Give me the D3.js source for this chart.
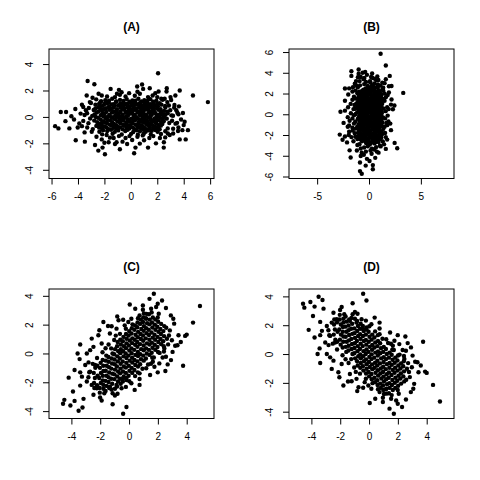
<!DOCTYPE html>
<html>
<head>
<meta charset="utf-8">
<title></title>
<style>
  body { margin: 0; background: #fff; }
</style>
</head>
<body>
<script src="https://d3js.org/d3.v7.min.js"></script>
<script type="text/javascript">

    var titles = ["(A)", "(B)", "(C)", "(D)"];

    var xTicksA = [-6, -4, -2, 0, 2, 4, 6], yTicksA = [-4, -2, 0, 2, 4];
    var xTicksB = [-5, 0, 5],               yTicksB = [-6, -4, -2, 0, 2, 4, 6];
    var xTicksC = [-4, -2, 0, 2, 4],        yTicksC = [-4, -2, 0, 2, 4];
    var xTicksD = [-4, -2, 0, 2, 4],        yTicksD = [-4, -2, 0, 2, 4];

    // points, [x, y]
    var ptsA = [
        [5.83,1.12],[2.06,3.3],[4.7,1.62],[-5.73,-0.7],[-5.48,-0.87],[-5.3,0.37],[-4.9,0.37],[-4.95,-0.32],[-4.5,0.05],[-4.65,-0.87],
        [-4.17,-1.77],[-4.02,-0.8],[-3.8,0.25],[-3.6,0.75],[-3.4,0.5],[-3.5,-1.17],[-3.48,-1.87],[-3.27,2.72],[-2.76,2.47],[-2.71,-2.12],
        [-2.46,-2.55],[-1.96,-2.82],[-2.14,-2.32],[-3.34,1.62],[-3.7,0.92],[-3.1,1.12],[-1.53,2.12],[-0.9,2.05],[-0.7,1.87],[0.48,2.3],
        [0.85,2.45],[1.43,2.17],[0.25,-2.75],[0.35,-2.32],[1.3,-2.32],[2.49,-2.32],[2.5,-1.92],[2.8,-1.25],[2.72,2.17],[2.1,1.92],
        [3.37,1.62],[3.7,2.0],[3.64,0.8],[3.94,0.3],[4.07,-0.37],[4.32,-1.0],[3.7,-1.7],[4.15,-1.7],[4.0,-0.62],[3.57,-1.07],
        [3.2,-1.25],[2.94,-1.37],[3.44,0.5],[3.07,0.12],[2.76,1.12],[2.56,1.37],[1.0,-1.77],[0.68,-2.02],[-1.08,-1.92],[-0.63,-1.87],
        [-0.28,-2.05],[-0.83,-2.45],[-1.68,-1.92],[-1.58,-1.57],[-1.83,-1.37],[-2.96,-1.12],
        [-2.44,1.75],[-2.2,1.62],[-1.8,1.55],[-1.2,1.5],[-0.83,1.67],[-0.4,1.55],[-0.13,1.8],[0.3,1.6],[0.68,1.75],[0.93,2.12],
        [1.3,1.5],[1.65,1.62],[2.0,1.5],[2.3,1.37],[2.7,1.92],[-2.9,1.45],[-1.05,1.75],[0.5,1.9],[1.85,1.8],[3.0,1.5],
        [-2.6,-1.5],[-2.2,-1.7],[-1.3,-1.6],[-0.9,-1.45],[-0.4,-1.6],[0.1,-1.75],[0.5,-1.5],[1.4,-1.6],[1.7,-1.45],[2.2,-1.6],
        [2.6,-1.55],[-0.1,-1.45],[1.9,-2.0],[-1.2,-2.05],[0.9,-1.4],[-2.0,-1.95],
        [-3.6,-0.3],[-3.9,-0.5],[-3.3,-0.8],[-4.2,0.6],[-3.5,0.15],[-4.3,-0.2],[-3.7,-0.7],
        [3.6,0.2],[3.8,-0.2],[3.5,-0.45],[3.9,-1.0],[3.3,0.9],[3.6,-0.8],[3.2,-0.9],
        [-2.62,1.33],[-1.93,1.26],[-1.41,1.37],[-0.82,1.29],[-0.31,1.35],[0.12,1.24],[0.57,1.38],[1.02,1.27],[1.48,1.34],[1.93,1.22],[2.41,1.3],[3.05,1.28],
        [-3.02,1.05],[-2.31,1.12],[-1.68,1.08],[-1.12,1.15],[-0.58,1.06],[-0.07,1.13],[0.34,1.02],[0.79,1.14],[1.23,1.07],[1.71,1.12],[2.18,1.04],[-2.0,0.98],
        [-2.68,0.92],[-2.12,0.85],[-1.47,0.94],[-0.97,0.87],[-0.48,0.95],[0.03,0.88],[0.42,0.93],[0.88,0.84],[1.33,0.96],[1.79,0.89],[2.32,0.93],[2.88,0.86],
        [-3.18,0.68],[-2.47,0.73],[-1.88,0.66],[-1.31,0.74],[-0.78,0.69],[-0.27,0.72],[0.19,0.65],[0.63,0.75],[1.04,0.68],[1.52,0.73],[1.98,0.66],[2.61,0.72],[3.28,0.7],
        [-2.81,0.52],[-2.18,0.46],[-1.62,0.54],[-1.07,0.48],[-0.59,0.55],[-0.16,0.47],[0.31,0.53],[0.72,0.45],[1.17,0.56],[1.62,0.49],[2.09,0.54],[2.52,0.46],[2.98,0.51],
        [-3.31,0.28],[-2.58,0.33],[-1.99,0.26],[-1.42,0.34],[-0.91,0.27],[-0.38,0.32],[0.08,0.25],[0.51,0.34],[0.93,0.27],[1.38,0.31],[1.87,0.26],[2.29,0.33],[2.79,0.28],[3.52,0.31],
        [-2.92,0.08],[-2.27,0.13],[-1.71,0.06],[-1.18,0.12],[-0.69,0.05],[-0.21,0.11],[0.23,0.07],[0.68,0.14],[1.09,0.06],[1.53,0.12],[2.02,0.07],[2.58,0.13],[3.19,0.09],
        [-3.08,-0.12],[-2.49,-0.07],[-1.88,-0.13],[-1.37,-0.06],[-0.88,-0.11],[-0.47,-0.05],[0.02,-0.13],[0.43,-0.08],[0.87,-0.12],[1.31,-0.05],[1.78,-0.11],[2.21,-0.07],[2.72,-0.13],
        [-2.77,-0.28],[-2.09,-0.33],[-1.57,-0.26],[-1.02,-0.34],[-0.57,-0.27],[-0.09,-0.32],[0.32,-0.25],[0.79,-0.34],[1.21,-0.27],[1.68,-0.31],[2.11,-0.26],[2.49,-0.33],[3.12,-0.29],
        [-3.21,-0.47],[-2.42,-0.53],[-1.81,-0.46],[-1.28,-0.54],[-0.79,-0.48],[-0.31,-0.55],[0.12,-0.47],[0.58,-0.52],[1.01,-0.45],[1.43,-0.54],[1.92,-0.48],[2.38,-0.53],[2.91,-0.46],[3.38,-0.51],
        [-2.61,-0.68],[-2.02,-0.73],[-1.48,-0.66],[-0.98,-0.74],[-0.52,-0.67],[-0.02,-0.72],[0.47,-0.65],[0.91,-0.74],[1.38,-0.68],[1.82,-0.72],[2.27,-0.66],
        [-2.88,-0.92],[-2.19,-0.86],[-1.67,-0.93],[-1.09,-0.87],[-0.61,-0.94],[-0.12,-0.88],[0.29,-0.93],[0.78,-0.86],[1.19,-0.92],[1.72,-0.88],[2.18,-0.94],[2.79,-0.87],
        [-2.38,-1.12],[-1.79,-1.06],[-1.21,-1.13],[-0.42,-1.07],[0.18,-1.14],[0.69,-1.08],[1.12,-1.13],[1.58,-1.05],[2.03,-1.12],[2.61,-1.08],
        [-2.17,-1.32],[-1.38,-1.27],[-0.69,-1.33],[0.02,-1.28],[0.53,-1.34],[0.98,-1.27],[1.51,-1.31],[2.28,-1.29],
        [-1.65,0.78],[-0.55,0.82],[0.42,0.62],[1.25,0.8],[-1.2,0.4],[-0.1,0.38],[0.95,0.42],[1.8,0.38],[-1.9,-0.02],[-0.85,0.02],
        [0.22,-0.02],[1.2,0.02],[-1.4,-0.4],[-0.35,-0.42],[0.6,-0.4],[1.55,-0.38],[-1.1,-0.8],[0.15,-0.8],[1.0,-0.8],[-2.3,0.6],
        [2.3,0.2],[-2.2,-0.45],[2.1,-0.85],[0.7,1.05],[-0.3,1.0],
        [-2.25,1.19],[-1.65,1.22],[-1.1,1.17],[-0.55,1.21],[-0.1,1.16],[0.35,1.22],[0.8,1.18],[1.25,1.21],[1.7,1.16],
        [-2.4,0.99],[-1.8,1.02],[-1.3,0.97],[-0.8,1.01],[-0.3,0.96],[0.15,1.02],[0.6,0.98],[1.05,1.01],[1.5,0.97],[2.0,1.02],
        [-2.35,0.81],[-1.25,0.84],[-0.75,0.79],[-0.2,0.83],[0.22,0.78],[0.68,0.82],[1.1,0.79],[1.55,0.84],[2.05,0.8],[2.6,0.83],
        [-2.7,0.61],[-2.05,0.58],[-1.5,0.63],[-1.05,0.59],[-0.5,0.64],[-0.05,0.6],[0.85,0.63],[1.3,0.58],[1.75,0.62],[2.25,0.59],
        [-2.45,0.41],[-1.85,0.38],[-1.35,0.43],[-0.8,0.39],[-0.38,0.42],[0.1,0.38],[0.52,0.43],[1.4,0.4],[2.3,0.42],[2.75,0.39],
        [-2.75,0.19],[-2.15,0.22],[-1.6,0.17],[-1.1,0.21],[-0.62,0.18],[-0.15,0.22],[0.3,0.17],[0.75,0.21],[1.15,0.18],[1.6,0.22],[2.1,0.17],[2.5,0.21],
        [-2.65,-0.01],[-2.05,0.02],[-1.45,-0.02],[-1.05,0.01],[-0.6,-0.03],[-0.35,0.02],[0.45,-0.02],[0.9,0.02],[1.45,-0.01],[1.95,0.02],[2.45,-0.02],
        [-2.3,-0.19],[-1.75,-0.22],[-1.2,-0.17],[-0.7,-0.21],[-0.25,-0.18],[0.18,-0.22],[0.62,-0.17],[1.05,-0.21],[1.5,-0.18],[1.98,-0.22],[2.4,-0.19],
        [-2.55,-0.39],[-1.95,-0.42],[-0.82,-0.38],[0.1,-0.41],[0.95,-0.37],[1.3,-0.42],[1.85,-0.38],[2.3,-0.41],
        [-2.2,-0.61],[-1.6,-0.58],[-1.1,-0.63],[-0.58,-0.59],[-0.1,-0.62],[0.35,-0.58],[0.8,-0.63],[1.22,-0.59],[1.65,-0.62],[2.1,-0.6],
        [-2.4,-0.81],[-1.85,-0.78],[-1.3,-0.83],[-0.8,-0.79],[-0.32,-0.82],[0.55,-0.78],[1.45,-0.82],[1.95,-0.79],
        [-2.1,-1.0],[-1.5,-0.97],[-0.95,-1.02],[-0.25,-0.98],[0.45,-1.01],[0.95,-0.97],[1.35,-1.02],[1.85,-0.99]
    ];

    var ptsB = [
        [1.12,5.83],[3.3,2.06],[1.62,4.7],[-0.7,-5.73],[-0.87,-5.48],[0.37,-5.3],[0.37,-4.9],[-0.32,-4.95],[0.05,-4.5],[-0.87,-4.65],
        [-1.77,-4.17],[-0.8,-4.02],[0.25,-3.8],[0.75,-3.6],[0.5,-3.4],[-1.17,-3.5],[-1.87,-3.48],[2.72,-3.27],[2.47,-2.76],[-2.12,-2.71],
        [-2.55,-2.46],[-2.82,-1.96],[-2.32,-2.14],[1.62,-3.34],[0.92,-3.7],[1.12,-3.1],[2.12,-1.53],[2.05,-0.9],[1.87,-0.7],[2.3,0.48],
        [2.45,0.85],[2.17,1.43],[-2.75,0.25],[-2.32,0.35],[-2.32,1.3],[-2.32,2.49],[-1.92,2.5],[-1.25,2.8],[2.17,2.72],[1.92,2.1],
        [1.62,3.37],[2.0,3.7],[0.8,3.64],[0.3,3.94],[-0.37,4.07],[-1.0,4.32],[-1.7,3.7],[-1.7,4.15],[-0.62,4.0],[-1.07,3.57],
        [-1.25,3.2],[-1.37,2.94],[0.5,3.44],[0.12,3.07],[1.12,2.76],[1.37,2.56],[-1.77,1.0],[-2.02,0.68],[-1.92,-1.08],[-1.87,-0.63],
        [-2.05,-0.28],[-2.45,-0.83],[-1.92,-1.68],[-1.57,-1.58],[-1.37,-1.83],[-1.12,-2.96],
        [1.75,-2.44],[1.62,-2.2],[1.55,-1.8],[1.5,-1.2],[1.67,-0.83],[1.55,-0.4],[1.8,-0.13],[1.6,0.3],[1.75,0.68],[2.12,0.93],
        [1.5,1.3],[1.62,1.65],[1.5,2.0],[1.37,2.3],[1.92,2.7],[1.45,-2.9],[1.75,-1.05],[1.9,0.5],[1.8,1.85],[1.5,3.0],
        [-1.5,-2.6],[-1.7,-2.2],[-1.6,-1.3],[-1.45,-0.9],[-1.6,-0.4],[-1.75,0.1],[-1.5,0.5],[-1.6,1.4],[-1.45,1.7],[-1.6,2.2],
        [-1.55,2.6],[-1.45,-0.1],[-2.0,1.9],[-2.05,-1.2],[-1.4,0.9],[-1.95,-2.0],
        [-0.3,-3.6],[-0.5,-3.9],[-0.8,-3.3],[0.6,-4.2],[0.15,-3.5],[-0.2,-4.3],[-0.7,-3.7],
        [0.2,3.6],[-0.2,3.8],[-0.45,3.5],[-1.0,3.9],[0.9,3.3],[-0.8,3.6],[-0.9,3.2],
        [1.33,-2.62],[1.26,-1.93],[1.37,-1.41],[1.29,-0.82],[1.35,-0.31],[1.24,0.12],[1.38,0.57],[1.27,1.02],[1.34,1.48],[1.22,1.93],[1.3,2.41],[1.28,3.05],
        [1.05,-3.02],[1.12,-2.31],[1.08,-1.68],[1.15,-1.12],[1.06,-0.58],[1.13,-0.07],[1.02,0.34],[1.14,0.79],[1.07,1.23],[1.12,1.71],[1.04,2.18],[0.98,-2.0],
        [0.92,-2.68],[0.85,-2.12],[0.94,-1.47],[0.87,-0.97],[0.95,-0.48],[0.88,0.03],[0.93,0.42],[0.84,0.88],[0.96,1.33],[0.89,1.79],[0.93,2.32],[0.86,2.88],
        [0.68,-3.18],[0.73,-2.47],[0.66,-1.88],[0.74,-1.31],[0.69,-0.78],[0.72,-0.27],[0.65,0.19],[0.75,0.63],[0.68,1.04],[0.73,1.52],[0.66,1.98],[0.72,2.61],[0.7,3.28],
        [0.52,-2.81],[0.46,-2.18],[0.54,-1.62],[0.48,-1.07],[0.55,-0.59],[0.47,-0.16],[0.53,0.31],[0.45,0.72],[0.56,1.17],[0.49,1.62],[0.54,2.09],[0.46,2.52],[0.51,2.98],
        [0.28,-3.31],[0.33,-2.58],[0.26,-1.99],[0.34,-1.42],[0.27,-0.91],[0.32,-0.38],[0.25,0.08],[0.34,0.51],[0.27,0.93],[0.31,1.38],[0.26,1.87],[0.33,2.29],[0.28,2.79],[0.31,3.52],
        [0.08,-2.92],[0.13,-2.27],[0.06,-1.71],[0.12,-1.18],[0.05,-0.69],[0.11,-0.21],[0.07,0.23],[0.14,0.68],[0.06,1.09],[0.12,1.53],[0.07,2.02],[0.13,2.58],[0.09,3.19],
        [-0.12,-3.08],[-0.07,-2.49],[-0.13,-1.88],[-0.06,-1.37],[-0.11,-0.88],[-0.05,-0.47],[-0.13,0.02],[-0.08,0.43],[-0.12,0.87],[-0.05,1.31],[-0.11,1.78],[-0.07,2.21],[-0.13,2.72],
        [-0.28,-2.77],[-0.33,-2.09],[-0.26,-1.57],[-0.34,-1.02],[-0.27,-0.57],[-0.32,-0.09],[-0.25,0.32],[-0.34,0.79],[-0.27,1.21],[-0.31,1.68],[-0.26,2.11],[-0.33,2.49],[-0.29,3.12],
        [-0.47,-3.21],[-0.53,-2.42],[-0.46,-1.81],[-0.54,-1.28],[-0.48,-0.79],[-0.55,-0.31],[-0.47,0.12],[-0.52,0.58],[-0.45,1.01],[-0.54,1.43],[-0.48,1.92],[-0.53,2.38],[-0.46,2.91],[-0.51,3.38],
        [-0.68,-2.61],[-0.73,-2.02],[-0.66,-1.48],[-0.74,-0.98],[-0.67,-0.52],[-0.72,-0.02],[-0.65,0.47],[-0.74,0.91],[-0.68,1.38],[-0.72,1.82],[-0.66,2.27],
        [-0.92,-2.88],[-0.86,-2.19],[-0.93,-1.67],[-0.87,-1.09],[-0.94,-0.61],[-0.88,-0.12],[-0.93,0.29],[-0.86,0.78],[-0.92,1.19],[-0.88,1.72],[-0.94,2.18],[-0.87,2.79],
        [-1.12,-2.38],[-1.06,-1.79],[-1.13,-1.21],[-1.07,-0.42],[-1.14,0.18],[-1.08,0.69],[-1.13,1.12],[-1.05,1.58],[-1.12,2.03],[-1.08,2.61],
        [-1.32,-2.17],[-1.27,-1.38],[-1.33,-0.69],[-1.28,0.02],[-1.34,0.53],[-1.27,0.98],[-1.31,1.51],[-1.29,2.28],
        [0.78,-1.65],[0.82,-0.55],[0.62,0.42],[0.8,1.25],[0.4,-1.2],[0.38,-0.1],[0.42,0.95],[0.38,1.8],[-0.02,-1.9],[0.02,-0.85],
        [-0.02,0.22],[0.02,1.2],[-0.4,-1.4],[-0.42,-0.35],[-0.4,0.6],[-0.38,1.55],[-0.8,-1.1],[-0.8,0.15],[-0.8,1.0],[0.6,-2.3],
        [0.2,2.3],[-0.45,-2.2],[-0.85,2.1],[1.05,0.7],[1.0,-0.3],
        [1.19,-2.25],[1.22,-1.65],[1.17,-1.1],[1.21,-0.55],[1.16,-0.1],[1.22,0.35],[1.18,0.8],[1.21,1.25],[1.16,1.7],
        [0.99,-2.4],[1.02,-1.8],[0.97,-1.3],[1.01,-0.8],[0.96,-0.3],[1.02,0.15],[0.98,0.6],[1.01,1.05],[0.97,1.5],[1.02,2.0],
        [0.81,-2.35],[0.84,-1.25],[0.79,-0.75],[0.83,-0.2],[0.78,0.22],[0.82,0.68],[0.79,1.1],[0.84,1.55],[0.8,2.05],[0.83,2.6],
        [0.61,-2.7],[0.58,-2.05],[0.63,-1.5],[0.59,-1.05],[0.64,-0.5],[0.6,-0.05],[0.63,0.85],[0.58,1.3],[0.62,1.75],[0.59,2.25],
        [0.41,-2.45],[0.38,-1.85],[0.43,-1.35],[0.39,-0.8],[0.42,-0.38],[0.38,0.1],[0.43,0.52],[0.4,1.4],[0.42,2.3],[0.39,2.75],
        [0.19,-2.75],[0.22,-2.15],[0.17,-1.6],[0.21,-1.1],[0.18,-0.62],[0.22,-0.15],[0.17,0.3],[0.21,0.75],[0.18,1.15],[0.22,1.6],[0.17,2.1],[0.21,2.5],
        [-0.01,-2.65],[0.02,-2.05],[-0.02,-1.45],[0.01,-1.05],[-0.03,-0.6],[0.02,-0.35],[-0.02,0.45],[0.02,0.9],[-0.01,1.45],[0.02,1.95],[-0.02,2.45],
        [-0.19,-2.3],[-0.22,-1.75],[-0.17,-1.2],[-0.21,-0.7],[-0.18,-0.25],[-0.22,0.18],[-0.17,0.62],[-0.21,1.05],[-0.18,1.5],[-0.22,1.98],[-0.19,2.4],
        [-0.39,-2.55],[-0.42,-1.95],[-0.38,-0.82],[-0.41,0.1],[-0.37,0.95],[-0.42,1.3],[-0.38,1.85],[-0.41,2.3],
        [-0.61,-2.2],[-0.58,-1.6],[-0.63,-1.1],[-0.59,-0.58],[-0.62,-0.1],[-0.58,0.35],[-0.63,0.8],[-0.59,1.22],[-0.62,1.65],[-0.6,2.1],
        [-0.81,-2.4],[-0.78,-1.85],[-0.83,-1.3],[-0.79,-0.8],[-0.82,-0.32],[-0.78,0.55],[-0.82,1.45],[-0.79,1.95],
        [-1.0,-2.1],[-0.97,-1.5],[-1.02,-0.95],[-0.98,-0.25],[-1.01,0.45],[-0.97,0.95],[-1.02,1.35],[-0.99,1.85]
    ];

    var ptsC = [
        [4.92,3.29],[4.44,2.14],[4.0,1.31],[3.89,1.22],[3.75,-0.85],[3.43,1.26],[3.2,0.53],[2.97,0.92],[2.45,0.34],[1.72,4.14],
        [1.42,3.79],[2.29,3.68],[1.99,3.45],[2.56,3.15],[0.05,3.4],[0.43,3.1],[0.96,3.03],[2.9,2.64],[3.07,2.41],[3.13,2.07],
        [-0.82,2.57],[-0.73,2.3],[-1.21,1.89],[-1.78,2.18],[-0.41,2.34],[-2.13,1.26],[-2.59,1.03],[-3.39,0.62],[-3.57,0.0],[-3.43,-0.39],
        [-3.78,-1.15],[-4.19,-1.68],[-3.39,-1.31],[-3.27,-1.61],[-3.04,-0.8],[-2.7,0.23],[-3.39,-2.23],[-3.89,-2.64],[-4.49,-3.22],[-4.58,-3.49],
        [-4.07,-3.61],[-3.78,-3.29],[-3.5,-3.98],[-3.23,-3.75],[-3.16,-3.15],[-2.47,-2.87],[-2.01,-3.06],[-1.9,-3.26],[-1.72,-2.76],[-1.14,-3.52],
        [-1.14,-2.76],[-0.8,-2.8],[-0.41,-4.18],[-0.18,-3.72],[0.39,-2.53],[0.73,-2.18],[0.73,-1.77],[1.46,-1.49],[1.99,-1.31],[2.52,-1.22],
        [2.68,-0.76],[2.91,-0.46],
        [-2.06,1.61],[-1.46,1.91],[-1.9,0.69],[-2.47,0.46],[-2.93,0.0],[-2.36,-0.8],[-2.7,-1.26],[-2.81,-0.62],[-1.33,1.38],[-0.87,1.72],
        [-0.3,1.95],[0.16,2.41],[0.73,2.64],[1.19,2.41],[1.53,3.1],[1.88,3.22],[2.06,2.76],[0.96,3.33],
        [0.73,-1.38],[1.19,-1.03],[1.76,-0.92],[2.1,-0.69],[2.56,-0.23],[3.02,0.11],[3.36,0.57],[3.59,0.8],[1.65,-0.57],[-0.41,-1.72],
        [-0.87,-2.18],[-1.33,-2.3],[0.16,-2.07],[-0.18,-1.84],[-1.78,-2.18],[-2.24,-2.41],[-2.93,-1.95],[-2.59,-2.18],
        [-2.82,-1.65],[-2.76,-1.3],
        [-2.43,-2.05],[-2.37,-1.7],[-2.45,-1.35],[-2.34,-1.0],[-2.41,-2.4],
        [-2.04,-2.4],[-1.96,-2.05],[-2.07,-1.7],[-1.95,-1.35],[-2.02,-1.0],[-1.97,-0.65],[-2.03,-2.72],
        [-1.63,-2.6],[-1.56,-2.25],[-1.64,-1.9],[-1.57,-1.55],[-1.62,-1.2],[-1.55,-0.85],[-1.61,-0.5],[-1.58,-0.15],
        [-1.22,-2.5],[-1.17,-2.1],[-1.24,-1.75],[-1.16,-1.4],[-1.23,-1.05],[-1.18,-0.7],[-1.21,-0.35],[-1.15,0.0],[-1.24,0.35],
        [-0.83,-2.3],[-0.77,-1.95],[-0.82,-1.6],[-0.76,-1.25],[-0.84,-0.9],[-0.78,-0.55],[-0.81,-0.2],[-0.75,0.15],[-0.83,0.5],[-0.79,0.8],
        [-0.43,-1.95],[-0.37,-1.6],[-0.42,-1.25],[-0.36,-0.9],[-0.44,-0.55],[-0.38,-0.2],[-0.41,0.15],[-0.35,0.5],[-0.43,0.85],[-0.39,1.15],
        [-0.03,-1.55],[0.03,-1.2],[-0.02,-0.85],[0.04,-0.5],[-0.04,-0.15],[0.02,0.2],[-0.01,0.55],[0.05,0.9],[-0.03,1.25],[0.01,1.55],
        [0.37,-1.15],[0.43,-0.8],[0.38,-0.45],[0.44,-0.1],[0.36,0.25],[0.42,0.6],[0.39,0.95],[0.45,1.3],[0.37,1.65],[0.41,1.95],
        [0.77,-0.75],[0.83,-0.4],[0.78,-0.05],[0.84,0.3],[0.76,0.65],[0.82,1.0],[0.79,1.35],[0.85,1.7],[0.77,2.05],[0.81,2.35],
        [1.17,-0.35],[1.23,0.0],[1.18,0.35],[1.24,0.7],[1.16,1.05],[1.22,1.4],[1.19,1.75],[1.25,2.1],[1.17,2.45],[1.21,2.75],
        [1.57,0.05],[1.63,0.4],[1.58,0.75],[1.64,1.1],[1.56,1.45],[1.62,1.8],[1.59,2.15],[1.65,2.5],[1.57,2.85],[1.61,-0.3],
        [1.97,0.45],[2.03,0.8],[1.98,1.15],[2.04,1.5],[1.96,1.85],[2.02,2.2],[1.99,2.5],[2.01,0.1],
        [2.37,0.85],[2.43,1.2],[2.38,1.55],[2.44,1.9],[2.41,0.5],
        [2.77,1.25],[2.83,1.6],
        [-1.02,-1.78],[-0.98,-1.12],[-1.01,-0.42],[-0.62,-1.38],[-0.58,-0.72],[-0.61,0.02],[-0.57,0.62],[-0.22,-0.98],[-0.18,-0.32],[-0.21,0.37],
        [-0.17,1.02],[0.22,-0.63],[0.18,0.02],[0.21,0.72],[0.17,1.38],[0.62,-0.18],[0.58,0.47],[0.61,1.13],[0.57,1.82],[1.02,0.22],
        [0.98,0.88],[1.01,1.57],[0.97,2.18],[1.42,0.62],[1.38,1.28],[1.41,2.02],[-1.42,-1.98],[-1.38,-1.32],[-1.41,-0.58],[-1.82,-1.88],
        [-1.78,-1.22],
        [-2.22,-2.2],[-2.18,-1.55],[-2.21,-0.85],
        [-1.78,-2.45],[-1.82,-1.55],[-1.79,-0.85],[-1.83,-0.45],
        [-1.38,-2.4],[-1.42,-1.65],[-1.39,-0.95],[-1.43,-0.25],
        [-0.98,-2.45],[-1.02,-1.45],[-0.99,-0.75],[-1.03,-0.05],[-0.97,0.3],
        [-0.58,-2.1],[-0.62,-1.75],[-0.59,-1.05],[-0.63,-0.35],[-0.57,0.3],[-0.61,0.95],
        [-0.18,-1.7],[-0.22,-1.35],[-0.19,-0.65],[-0.23,0.0],[-0.17,0.7],[-0.21,1.35],
        [0.22,-1.35],[0.18,-1.0],[0.21,-0.3],[0.17,0.35],[0.23,1.05],[0.19,1.75],
        [0.62,-0.9],[0.58,-0.55],[0.61,0.1],[0.57,0.8],[0.63,1.5],[0.59,2.15],
        [1.02,-0.5],[0.98,-0.15],[1.01,0.55],[0.97,1.25],[1.03,1.9],[0.99,2.5],
        [1.42,-0.1],[1.38,0.25],[1.41,0.95],[1.37,1.65],[1.43,2.35],
        [1.82,0.25],[1.78,0.6],[1.81,0.95],[1.77,1.3],[1.83,1.65],[1.79,2.0],[1.82,2.35],
        [2.22,0.65],[2.18,1.0],[2.21,1.35],[2.17,1.7],[2.23,2.05],
        [-2.22,-0.32],[-1.84,0.08],[-1.42,0.62],[-1.03,0.93],[-0.63,1.36],[-0.22,1.71],[0.24,2.02],[0.62,2.44],[1.03,2.77],[-2.52,-0.72],
        [-1.63,0.36],[-0.92,1.24],[-0.05,2.18],[1.38,2.72],[-0.98,-2.92],[-0.52,-2.41],[0.02,-1.93],[0.42,-1.57],[0.93,-1.06],[1.32,-0.77],
        [1.72,-0.28],[2.12,0.04],[2.42,0.14],[2.71,0.63],[-0.22,-2.32],[0.61,-1.31],[1.52,-0.71],[2.33,-0.28],[2.63,1.02],[2.58,1.78]
    ];

    var ptsD = [
        [4.92,-3.29],[4.44,-2.14],[4.0,-1.31],[3.89,-1.22],[3.75,0.85],[3.43,-1.26],[3.2,-0.53],[2.97,-0.92],[2.45,-0.34],[1.72,-4.14],
        [1.42,-3.79],[2.29,-3.68],[1.99,-3.45],[2.56,-3.15],[0.05,-3.4],[0.43,-3.1],[0.96,-3.03],[2.9,-2.64],[3.07,-2.41],[3.13,-2.07],
        [-0.82,-2.57],[-0.73,-2.3],[-1.21,-1.89],[-1.78,-2.18],[-0.41,-2.34],[-2.13,-1.26],[-2.59,-1.03],[-3.39,-0.62],[-3.57,0.0],[-3.43,0.39],
        [-3.78,1.15],[-4.19,1.68],[-3.39,1.31],[-3.27,1.61],[-3.04,0.8],[-2.7,-0.23],[-3.39,2.23],[-3.89,2.64],[-4.49,3.22],[-4.58,3.49],
        [-4.07,3.61],[-3.78,3.29],[-3.5,3.98],[-3.23,3.75],[-3.16,3.15],[-2.47,2.87],[-2.01,3.06],[-1.9,3.26],[-1.72,2.76],[-1.14,3.52],
        [-1.14,2.76],[-0.8,2.8],[-0.41,4.18],[-0.18,3.72],[0.39,2.53],[0.73,2.18],[0.73,1.77],[1.46,1.49],[1.99,1.31],[2.52,1.22],
        [2.68,0.76],[2.91,0.46],
        [-2.06,-1.61],[-1.46,-1.91],[-1.9,-0.69],[-2.47,-0.46],[-2.93,0.0],[-2.36,0.8],[-2.7,1.26],[-2.81,0.62],[-1.33,-1.38],[-0.87,-1.72],
        [-0.3,-1.95],[0.16,-2.41],[0.73,-2.64],[1.19,-2.41],[1.53,-3.1],[1.88,-3.22],[2.06,-2.76],[0.96,-3.33],
        [0.73,1.38],[1.19,1.03],[1.76,0.92],[2.1,0.69],[2.56,0.23],[3.02,-0.11],[3.36,-0.57],[3.59,-0.8],[1.65,0.57],[-0.41,1.72],
        [-0.87,2.18],[-1.33,2.3],[0.16,2.07],[-0.18,1.84],[-1.78,2.18],[-2.24,2.41],[-2.93,1.95],[-2.59,2.18],
        [-2.82,1.65],[-2.76,1.3],
        [-2.43,2.05],[-2.37,1.7],[-2.45,1.35],[-2.34,1.0],[-2.41,2.4],
        [-2.04,2.4],[-1.96,2.05],[-2.07,1.7],[-1.95,1.35],[-2.02,1.0],[-1.97,0.65],[-2.03,2.72],
        [-1.63,2.6],[-1.56,2.25],[-1.64,1.9],[-1.57,1.55],[-1.62,1.2],[-1.55,0.85],[-1.61,0.5],[-1.58,0.15],
        [-1.22,2.5],[-1.17,2.1],[-1.24,1.75],[-1.16,1.4],[-1.23,1.05],[-1.18,0.7],[-1.21,0.35],[-1.15,0.0],[-1.24,-0.35],
        [-0.83,2.3],[-0.77,1.95],[-0.82,1.6],[-0.76,1.25],[-0.84,0.9],[-0.78,0.55],[-0.81,0.2],[-0.75,-0.15],[-0.83,-0.5],[-0.79,-0.8],
        [-0.43,1.95],[-0.37,1.6],[-0.42,1.25],[-0.36,0.9],[-0.44,0.55],[-0.38,0.2],[-0.41,-0.15],[-0.35,-0.5],[-0.43,-0.85],[-0.39,-1.15],
        [-0.03,1.55],[0.03,1.2],[-0.02,0.85],[0.04,0.5],[-0.04,0.15],[0.02,-0.2],[-0.01,-0.55],[0.05,-0.9],[-0.03,-1.25],[0.01,-1.55],
        [0.37,1.15],[0.43,0.8],[0.38,0.45],[0.44,0.1],[0.36,-0.25],[0.42,-0.6],[0.39,-0.95],[0.45,-1.3],[0.37,-1.65],[0.41,-1.95],
        [0.77,0.75],[0.83,0.4],[0.78,0.05],[0.84,-0.3],[0.76,-0.65],[0.82,-1.0],[0.79,-1.35],[0.85,-1.7],[0.77,-2.05],[0.81,-2.35],
        [1.17,0.35],[1.23,0.0],[1.18,-0.35],[1.24,-0.7],[1.16,-1.05],[1.22,-1.4],[1.19,-1.75],[1.25,-2.1],[1.17,-2.45],[1.21,-2.75],
        [1.57,-0.05],[1.63,-0.4],[1.58,-0.75],[1.64,-1.1],[1.56,-1.45],[1.62,-1.8],[1.59,-2.15],[1.65,-2.5],[1.57,-2.85],[1.61,0.3],
        [1.97,-0.45],[2.03,-0.8],[1.98,-1.15],[2.04,-1.5],[1.96,-1.85],[2.02,-2.2],[1.99,-2.5],[2.01,-0.1],
        [2.37,-0.85],[2.43,-1.2],[2.38,-1.55],[2.44,-1.9],[2.41,-0.5],
        [2.77,-1.25],[2.83,-1.6],
        [-1.02,1.78],[-0.98,1.12],[-1.01,0.42],[-0.62,1.38],[-0.58,0.72],[-0.61,-0.02],[-0.57,-0.62],[-0.22,0.98],[-0.18,0.32],[-0.21,-0.37],
        [-0.17,-1.02],[0.22,0.63],[0.18,-0.02],[0.21,-0.72],[0.17,-1.38],[0.62,0.18],[0.58,-0.47],[0.61,-1.13],[0.57,-1.82],[1.02,-0.22],
        [0.98,-0.88],[1.01,-1.57],[0.97,-2.18],[1.42,-0.62],[1.38,-1.28],[1.41,-2.02],[-1.42,1.98],[-1.38,1.32],[-1.41,0.58],[-1.82,1.88],
        [-1.78,1.22],
        [-2.22,2.2],[-2.18,1.55],[-2.21,0.85],
        [-1.78,2.45],[-1.82,1.55],[-1.79,0.85],[-1.83,0.45],
        [-1.38,2.4],[-1.42,1.65],[-1.39,0.95],[-1.43,0.25],
        [-0.98,2.45],[-1.02,1.45],[-0.99,0.75],[-1.03,0.05],[-0.97,-0.3],
        [-0.58,2.1],[-0.62,1.75],[-0.59,1.05],[-0.63,0.35],[-0.57,-0.3],[-0.61,-0.95],
        [-0.18,1.7],[-0.22,1.35],[-0.19,0.65],[-0.23,0.0],[-0.17,-0.7],[-0.21,-1.35],
        [0.22,1.35],[0.18,1.0],[0.21,0.3],[0.17,-0.35],[0.23,-1.05],[0.19,-1.75],
        [0.62,0.9],[0.58,0.55],[0.61,-0.1],[0.57,-0.8],[0.63,-1.5],[0.59,-2.15],
        [1.02,0.5],[0.98,0.15],[1.01,-0.55],[0.97,-1.25],[1.03,-1.9],[0.99,-2.5],
        [1.42,0.1],[1.38,-0.25],[1.41,-0.95],[1.37,-1.65],[1.43,-2.35],
        [1.82,-0.25],[1.78,-0.6],[1.81,-0.95],[1.77,-1.3],[1.83,-1.65],[1.79,-2.0],[1.82,-2.35],
        [2.22,-0.65],[2.18,-1.0],[2.21,-1.35],[2.17,-1.7],[2.23,-2.05],
        [-2.22,0.32],[-1.84,-0.08],[-1.42,-0.62],[-1.03,-0.93],[-0.63,-1.36],[-0.22,-1.71],[0.24,-2.02],[0.62,-2.44],[1.03,-2.77],[-2.52,0.72],
        [-1.63,-0.36],[-0.92,-1.24],[-0.05,-2.18],[1.38,-2.72],[-0.98,2.92],[-0.52,2.41],[0.02,1.93],[0.42,1.57],[0.93,1.06],[1.32,0.77],
        [1.72,0.28],[2.12,-0.04],[2.42,-0.14],[2.71,-0.63],[-0.22,2.32],[0.61,1.31],[1.52,0.71],[2.33,0.28],[2.63,-1.02],[2.58,-1.78]
    ];

    var panels = [
        {title: titles[0], pts: ptsA, xt: xTicksA, yt: yTicksA, ox: 0,   oy: 0},
        {title: titles[1], pts: ptsB, xt: xTicksB, yt: yTicksB, ox: 240, oy: 0},
        {title: titles[2], pts: ptsC, xt: xTicksC, yt: yTicksC, ox: 0,   oy: 240},
        {title: titles[3], pts: ptsD, xt: xTicksD, yt: yTicksD, ox: 240, oy: 240}
    ];

    // plot box inside each 240x240 panel
    var boxL = 49, boxR = 214, boxT = 49, boxB = 178.5;
    var boxW = boxR - boxL, boxH = boxB - boxT;
    var font = '"Liberation Sans", Arial, Helvetica, sans-serif';

    var canvas = d3.select('body')
                    .append('svg')
                        .attr('width', 480)
                        .attr('height', 480)
                        .style('background', '#fff');

    panels.forEach(function(p) {
        // equal units on both axes (asp = 1), then 4% padding
        var xe = d3.extent(p.pts, function(d) { return d[0]; });
        var ye = d3.extent(p.pts, function(d) { return d[1]; });
        var xd = xe[1] - xe[0], yd = ye[1] - ye[0];
        var s = Math.min(boxW / xd, boxH / yd);
        var xadd = (boxW / s - xd) / 2, yadd = (boxH / s - yd) / 2;
        var x0 = xe[0] - xadd, x1 = xe[1] + xadd;
        var y0 = ye[0] - yadd, y1 = ye[1] + yadd;
        var xp = (x1 - x0) * 0.04, yp = (y1 - y0) * 0.04;

        var x = d3.scaleLinear().domain([x0 - xp, x1 + xp]).range([boxL, boxR]);
        var y = d3.scaleLinear().domain([y0 - yp, y1 + yp]).range([boxB, boxT]);

        var g = canvas.append('g')
                    .attr('transform', 'translate(' + p.ox + ',' + p.oy + ')');

        g.selectAll('circle')
            .data(p.pts)
            .enter()
            .append('circle')
                .attr('cx', function(d) { return x(d[0]); })
                .attr('cy', function(d) { return y(d[1]); })
                .attr('r', 2.2)
                .attr('fill', '#000');

        g.append('rect')
            .attr('x', boxL).attr('y', boxT)
            .attr('width', boxW).attr('height', boxH)
            .attr('fill', 'none')
            .attr('stroke', '#000')
            .attr('stroke-width', 1);

        var fmt = function(d) { return String(d); };   // plain hyphen minus, like R

        var xAxis = g.append('g')
            .attr('transform', 'translate(0,' + boxB + ')')
            .call(d3.axisBottom(x).tickValues(p.xt).tickSize(6).tickFormat(fmt));
        xAxis.select('.domain').remove();
        xAxis.selectAll('text')
            .attr('y', 18).attr('dy', '0.35em')
            .attr('font-size', 10).attr('font-family', font).attr('fill', '#000');

        var yAxis = g.append('g')
            .attr('transform', 'translate(' + boxL + ',0)')
            .call(d3.axisLeft(y).tickValues(p.yt).tickSize(6).tickFormat(fmt));
        yAxis.select('.domain').remove();
        yAxis.selectAll('text')
            .attr('x', 0).attr('dy', '0.35em')
            .attr('text-anchor', 'middle')
            .attr('transform', 'translate(-19.5,0) rotate(-90)')
            .attr('font-size', 10).attr('font-family', font).attr('fill', '#000');

        g.append('text')
            .attr('x', (boxL + boxR) / 2)
            .attr('y', 26.7)
            .attr('dy', '0.35em')
            .attr('text-anchor', 'middle')
            .attr('font-family', font)
            .attr('font-weight', 'bold')
            .attr('font-size', 12)
            .text(p.title);
    });

</script>
</body>
</html>
